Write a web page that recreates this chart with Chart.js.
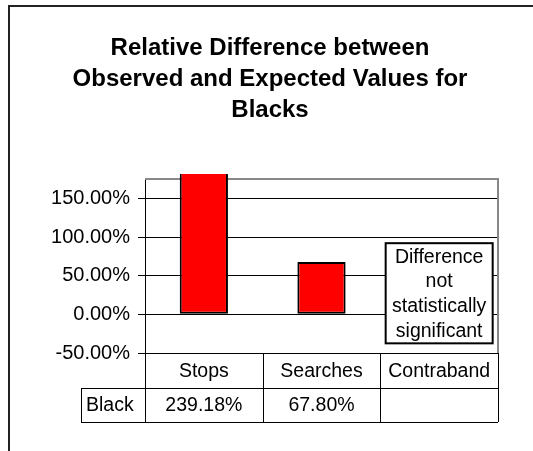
<!DOCTYPE html>
<html>
<head>
<meta charset="utf-8">
<script src="https://cdn.jsdelivr.net/npm/chart.js@4"></script>
<style>
  html, body { margin: 0; padding: 0; background: #fff; }
  #wrap { width: 533px; height: 451px; position: relative; }
</style>
</head>
<body>
<div id="wrap"><canvas id="chart"></canvas></div>
<script>
const categories = ['Stops', 'Searches', 'Contraband'];
const seriesName = 'Black';
const values = [239.18, 67.80, null];
const tableValues = ['239.18%', '67.80%', ''];
const yTicks = [-50, 0, 50, 100, 150];
const titleLines = ['Relative Difference between', 'Observed and Expected Values for', 'Blacks'];
const noteLines = ['Difference', 'not', 'statistically', 'significant'];

const FONT = "'Liberation Sans', Arial, sans-serif";

// outer frame, gray plot border, title
const framePlugin = {
  id: 'frame',
  beforeDatasetsDraw(chart) {
    const c = chart.ctx, a = chart.chartArea;
    c.save();
    c.strokeStyle = '#888';
    c.lineWidth = 2;
    c.beginPath();
    c.moveTo(a.left, a.top);
    c.lineTo(a.right, a.top);
    c.lineTo(a.right, a.bottom);
    c.stroke();
    c.restore();
  },
  afterDraw(chart) {
    const c = chart.ctx;
    c.save();
    c.strokeStyle = '#222';
    c.lineWidth = 2;
    c.beginPath();
    c.moveTo(533, 6);
    c.lineTo(9, 6);
    c.lineTo(9, 451);
    c.stroke();

    c.fillStyle = '#000';
    c.font = 'bold 24px ' + FONT;
    c.textAlign = 'center';
    c.textBaseline = 'alphabetic';
    titleLines.forEach((t, i) => c.fillText(t, 270, 55 + i * 31));
    c.restore();
  }
};

// data table under the plot + note box
const tablePlugin = {
  id: 'table',
  afterDraw(chart) {
    const c = chart.ctx, a = chart.chartArea;
    const x = chart.scales.x, y = chart.scales.y;
    const w = (a.right - a.left) / categories.length;
    const r1 = a.bottom, r2 = a.bottom + 35, r3 = a.bottom + 69;
    const hdrLeft = a.left - 64;
    c.save();
    c.strokeStyle = '#000';
    c.lineWidth = 1;
    c.beginPath();
    for (let i = 0; i <= categories.length; i++) {
      const px = Math.round(a.left + i * w) + 0.5;
      c.moveTo(px, r1);
      c.lineTo(px, r3);
    }
    c.moveTo(hdrLeft + 0.5, r2);
    c.lineTo(hdrLeft + 0.5, r3);
    c.moveTo(hdrLeft, r2 + 0.5);
    c.lineTo(a.right, r2 + 0.5);
    c.moveTo(hdrLeft, r3 + 0.5);
    c.lineTo(a.right, r3 + 0.5);
    c.stroke();

    c.fillStyle = '#000';
    c.font = '19.5px ' + FONT;
    c.textBaseline = 'middle';
    c.textAlign = 'center';
    categories.forEach((cat, i) => {
      const cx = x.getPixelForValue(i);
      c.fillText(cat, cx, (r1 + r2) / 2 + 1);
      c.fillText(tableValues[i], cx, (r2 + r3) / 2 + 1);
    });
    c.textAlign = 'left';
    c.fillText(seriesName, hdrLeft + 5, (r2 + r3) / 2 + 1);

    // note box over Contraband
    const bx = x.getPixelForValue(2);
    const top = y.getPixelForValue(92), bot = y.getPixelForValue(-37.5);
    const bw = 107;
    c.fillStyle = '#fff';
    c.fillRect(bx - bw / 2, top, bw, bot - top);
    c.lineWidth = 2;
    c.strokeStyle = '#000';
    c.strokeRect(bx - bw / 2, top, bw, bot - top);
    c.fillStyle = '#000';
    c.textAlign = 'center';
    const lh = 24.7;
    noteLines.forEach((t, i) => {
      c.fillText(t, bx, top + 14 + i * lh);
    });
    c.restore();
  }
};

new Chart(document.getElementById('chart'), {
  type: 'bar',
  data: {
    labels: categories,
    datasets: [{
      label: seriesName,
      data: values,
      backgroundColor: '#ff0000',
      borderColor: '#000',
      borderWidth: 2,
      borderSkipped: false,
      barPercentage: 0.41,
      categoryPercentage: 1,
      clip: { left: 0, top: 5, right: 0, bottom: 0 }
    }]
  },
  options: {
    responsive: true,
    maintainAspectRatio: false,
    animation: false,
    layout: { padding: { left: 9, top: 179, right: 35, bottom: 98 } },
    plugins: {
      legend: { display: false },
      tooltip: { enabled: false },
      title: { display: false }
    },
    scales: {
      x: { display: false },
      y: {
        min: -50,
        max: 175,
        afterFit(scale) { scale.width = 136; },
        afterBuildTicks(scale) { scale.ticks = yTicks.map(v => ({ value: v })); },
        ticks: {
          color: '#000',
          padding: 8,
          font: { family: FONT, size: 20 },
          callback: v => v.toFixed(2) + '%'
        },
        grid: { color: '#000', lineWidth: 1, tickLength: 7 },
        border: { color: '#000', width: 1 }
      }
    }
  },
  plugins: [framePlugin, tablePlugin]
});
</script>
</body>
</html>
